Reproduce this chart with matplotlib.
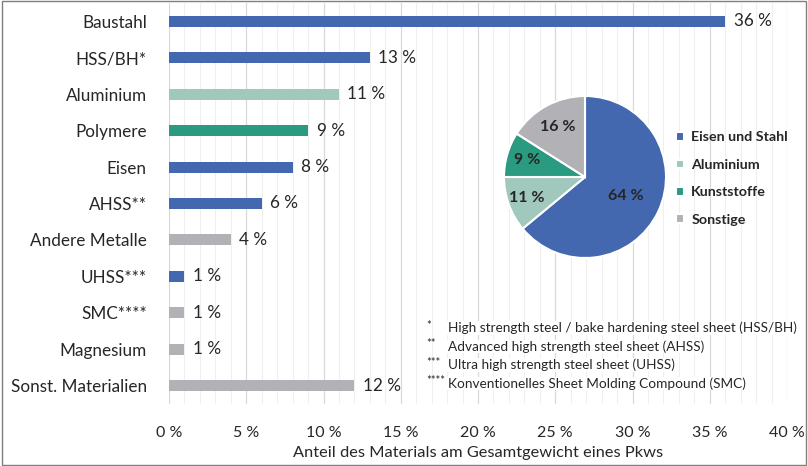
import numpy as np
import matplotlib.pyplot as plt
from matplotlib.patches import Rectangle

plt.rcParams['font.family'] = ['Lato', 'DejaVu Sans']

# Daten
materialien = ['Baustahl', 'HSS/BH*', 'Aluminium', 'Polymere', 'Eisen', 'AHSS**',
               'Andere Metalle', 'UHSS***', 'SMC****', 'Magnesium', 'Sonst. Materialien']
anteile = [36, 13, 11, 9, 8, 6, 4, 1, 1, 1, 12]
gruppen = ['stahl', 'stahl', 'alu', 'kunst', 'stahl', 'stahl', 'sonst', 'stahl', 'sonst', 'sonst', 'sonst']

pie_labels = ['Eisen und Stahl', 'Aluminium', 'Kunststoffe', 'Sonstige']
pie_werte = [64, 11, 9, 16]

fussnoten_sterne = ['*', '**', '***', '****']
fussnoten_text = ['High strength steel / bake hardening steel sheet (HSS/BH)',
                  'Advanced high strength steel sheet (AHSS)',
                  'Ultra high strength steel sheet (UHSS)',
                  'Konventionelles Sheet Molding Compound (SMC)']

farben = {'stahl': '#4368b0', 'alu': '#a0c8bc', 'kunst': '#2a9a80', 'sonst': '#b2b2b6'}
pie_farben = [farben['stahl'], farben['alu'], farben['kunst'], farben['sonst']]
textfarbe = '#262626'

fig = plt.figure(figsize=(8.08, 4.66), dpi=100)

# Balkendiagramm
ax = fig.add_axes([169 / 808, 1 - 404 / 466, 618 / 808, 401 / 466])
y = np.arange(len(materialien))
ax.barh(y, anteile, height=0.3, color=[farben[g] for g in gruppen], zorder=3)
for yi, v in zip(y, anteile):
    ax.text(v + 0.55, yi, f'{v} %', va='center', ha='left', fontsize=12.3, color=textfarbe)

ax.set_xlim(0, 40)
ax.set_ylim(len(materialien) - 0.5, -0.5)
ax.set_yticks(y)
ax.set_yticklabels(materialien, fontsize=12.3, color=textfarbe)
ax.set_xticks(np.arange(0, 41, 5))
ax.set_xticklabels([f'{v} %' for v in range(0, 41, 5)], fontsize=11.5, color=textfarbe)
ax.set_xticks(np.arange(0, 41, 1), minor=True)
ax.tick_params(axis='both', which='both', length=0)
ax.tick_params(axis='x', pad=16)
ax.tick_params(axis='y', pad=16)
ax.grid(axis='x', which='major', color='#d9d9d9', linewidth=0.9, zorder=0)
ax.grid(axis='x', which='minor', color='#efefef', linewidth=0.8, zorder=0)
for s in ax.spines.values():
    s.set_visible(False)
ax.set_xlabel('Anteil des Materials am Gesamtgewicht eines Pkws', fontsize=11.8,
              color=textfarbe, labelpad=4)

# Fussnoten
for i, (st, tx) in enumerate(zip(fussnoten_sterne, fussnoten_text)):
    yy = 1 - (328 + i * 18.5) / 466
    fig.text(426 / 808, yy + 0.006, st, fontsize=8, color=textfarbe, va='center')
    fig.text(448 / 808, yy, tx, fontsize=9.8, color=textfarbe, va='center',
             bbox=dict(facecolor='white', edgecolor='none', pad=0.5))

# Kreisdiagramm
pax = fig.add_axes([(585 - 81) / 808, 1 - (177 + 81) / 466, 162 / 808, 162 / 466])
wedges, texts, autotexts = pax.pie(pie_werte, colors=pie_farben, startangle=90,
                                   counterclock=False, autopct='%d %%', radius=1,
                                   wedgeprops=dict(edgecolor='white', linewidth=1.5),
                                   textprops=dict(fontsize=11.5, fontweight='bold', color=textfarbe))
abstaende = [0.56, 0.76, 0.75, 0.7]
start = 90
for w, t, d, v in zip(wedges, autotexts, abstaende, pie_werte):
    mitte = np.deg2rad(start - v * 3.6 / 2)
    start -= v * 3.6
    t.set_position((d * np.cos(mitte), d * np.sin(mitte)))
pax.set_xlim(-1, 1)
pax.set_ylim(-1, 1)
pax.set_aspect('equal')
pax.legend(wedges, pie_labels, loc='center left', bbox_to_anchor=(0.98, 0.49), frameon=False,
           prop=dict(size=10.3, weight='bold'), labelcolor=textfarbe, handlelength=0.55,
           handleheight=0.55, handletextpad=0.55, labelspacing=1.08)

# Rahmen
fig.patches.append(Rectangle((0.002, 0.003), 0.996, 0.994, transform=fig.transFigure,
                             fill=False, edgecolor='#7f7f7f', linewidth=1.0))

fig.savefig('out.png', dpi=100)
